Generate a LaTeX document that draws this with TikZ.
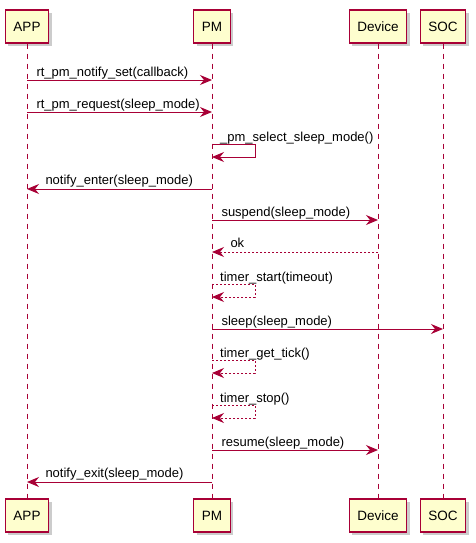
\documentclass[tikz,border=0pt]{standalone}
\usepackage{fontspec}
\setmainfont{Liberation Sans}
\usepackage{tikz}
\usetikzlibrary{positioning,arrows.meta,calc,shadows,backgrounds}
\definecolor{red1}{HTML}{A80036}
\definecolor{yellow1}{HTML}{FEFECE}
\definecolor{gray1}{HTML}{9A9A9A}

\begin{document}
\begin{tikzpicture}[
    x=1pt, y=-1pt,
    actor/.style={draw=red1, fill=yellow1, line width=1.2pt,
                  minimum height=33pt, inner xsep=8pt,
                  font=\fontsize{13.5}{15}\selectfont,
                  drop shadow={shadow xshift=3pt, shadow yshift=-3pt,
                               fill=gray1, opacity=0.5}},
    life/.style={draw=red1, line width=1pt, dash pattern=on 5pt off 5pt},
    msg/.style={draw=red1, line width=1pt,
                -{Stealth[length=12pt, width=10pt, inset=4pt, red1]}},
    reply/.style={msg, dash pattern=on 2pt off 2pt},
    lbl/.style={font=\fontsize{13}{15}\selectfont, anchor=base west,
                inner sep=0pt, text=black},
]
\useasboundingbox[fill=white] (0,0) rectangle (475,543);

\node[actor] (appT) at (27,26.5) {APP};
\node[actor] (pmT) at (212,26.5) {PM};
\node[actor] (devT) at (378,26.5) {Device};
\node[actor] (socT) at (443,26.5) {SOC};

\node[actor] (appB) at (27,515.5) {APP};
\node[actor] (pmB) at (212,515.5) {PM};
\node[actor] (devB) at (378,515.5) {Device};
\node[actor] (socB) at (443,515.5) {SOC};

\draw[life] (appT) -- (appB);
\draw[life] (pmT) -- (pmB);
\draw[life] (devT) -- (devB);
\draw[life] (socT) -- (socB);

\coordinate (m1) at (0,80);
\coordinate (m2) at (0,112);
\coordinate (m3) at (0,144);
\coordinate (m4) at (0,189);
\coordinate (m5) at (0,220);
\coordinate (m6) at (0,252);
\coordinate (m7) at (0,284);
\coordinate (m8) at (0,329);
\coordinate (m9) at (0,360);
\coordinate (m10) at (0,405);
\coordinate (m11) at (0,450);
\coordinate (m12) at (0,482);

\draw[msg] (appT |- m1) -- (pmT |- m1)
    node[lbl, at start, xshift=9pt, yshift=4pt] (t1) {rt\_pm\_notify\_set(callback)};
\draw[msg] (appT |- m2) -- (pmT |- m2)
    node[lbl, at start, xshift=9pt, yshift=4pt] (t2) {rt\_pm\_request(sleep\_mode)};
\draw[msg] (pmT |- m3) -- ++(43,0) -- ++(0,13) -- ++(-43,0);
\node[lbl, xshift=8pt, yshift=3pt] (t3) at (pmT |- m3) {\_pm\_select\_sleep\_mode()};
\draw[msg] (pmT |- m4) -- (appT |- m4)
    node[lbl, at end, xshift=18pt, yshift=4.5pt] (t4) {notify\_enter(sleep\_mode)};
\draw[msg] (pmT |- m5) -- (devT |- m5)
    node[lbl, at start, xshift=9pt, yshift=4pt] (t5) {suspend(sleep\_mode)};
\draw[reply] (devT |- m6) -- (pmT |- m6)
    node[lbl, at end, xshift=18pt, yshift=4.5pt] (t6) {ok};
\draw[reply] (pmT |- m7) -- ++(43,0) -- ++(0,13) -- ++(-43,0);
\node[lbl, xshift=8pt, yshift=3pt] (t7) at (pmT |- m7) {timer\_start(timeout)};
\draw[msg] (pmT |- m8) -- (socT |- m8)
    node[lbl, at start, xshift=9pt, yshift=4pt] (t8) {sleep(sleep\_mode)};
\draw[reply] (pmT |- m9) -- ++(43,0) -- ++(0,13) -- ++(-43,0);
\node[lbl, xshift=8pt, yshift=3pt] (t9) at (pmT |- m9) {timer\_get\_tick()};
\draw[reply] (pmT |- m10) -- ++(43,0) -- ++(0,13) -- ++(-43,0);
\node[lbl, xshift=8pt, yshift=3pt] (t10) at (pmT |- m10) {timer\_stop()};
\draw[msg] (pmT |- m11) -- (devT |- m11)
    node[lbl, at start, xshift=9pt, yshift=4pt] (t11) {resume(sleep\_mode)};
\draw[msg] (pmT |- m12) -- (appT |- m12)
    node[lbl, at end, xshift=18pt, yshift=4.5pt] (t12) {notify\_exit(sleep\_mode)};
\end{tikzpicture}
\end{document}
